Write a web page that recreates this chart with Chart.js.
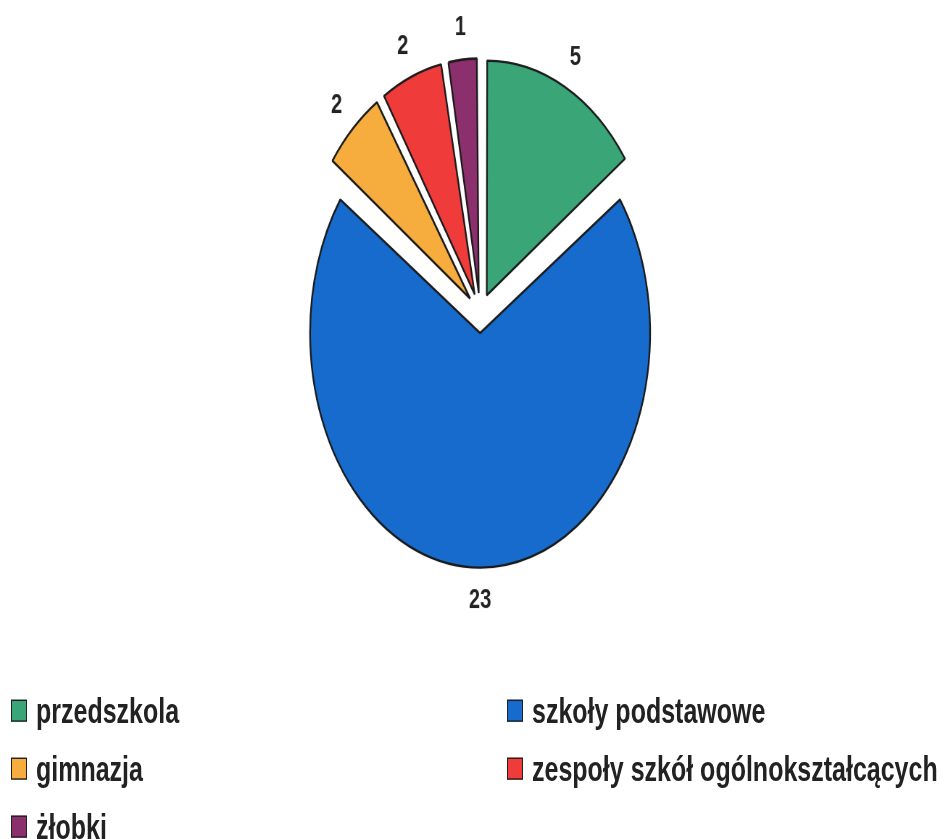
<!DOCTYPE html>
<html>
<head>
<meta charset="utf-8">
<script src="https://cdn.jsdelivr.net/npm/chart.js@4.4.0/dist/chart.umd.min.js"></script>
<style>
  html, body { margin: 0; padding: 0; background: #fff; overflow: hidden; }
  /* the reference is stretched vertically, so the whole stage is too */
  #stage { position: absolute; left: 0; top: 0; width: 948px; height: 608px;
           transform: scaleY(1.38); transform-origin: 0 0; }
  #pie { position: absolute; left: 0; top: 0; }
  .leg { position: absolute; display: flex; align-items: center; height: 30px; margin-top: -15px;
         font: bold 25px "Liberation Sans", Arial, sans-serif; color: #222; white-space: nowrap; }
  .leg i { display: block; width: 16px; height: 16px; border: 1.5px solid #222;
           box-sizing: border-box; margin-right: 9px; }
</style>
</head>
<body>
<div id="stage">
  <canvas id="pie" width="948" height="608"></canvas>
  <div id="legend"></div>
</div>
<script>
const categories = ['przedszkola', 'szkoły podstawowe', 'gimnazja', 'zespoły szkół ogólnokształcących', 'żłobki'];
const counts = [5, 23, 2, 2, 1];
const colors = ['#3aa678', '#166bcc', '#f7ad3d', '#ef3b3a', '#8b2f6d'];

const pieRadius = 170;
const sliceOffset = 58;

// keep every exploded slice at the same radius (Chart.js grows big slices by offset/4)
const evenRadius = {
  id: 'evenRadius',
  afterDatasetsUpdate(chart) {
    chart.getDatasetMeta(0).data.forEach(arc => {
      const fix = 1 - Math.sin(Math.min(Math.PI, arc.circumference));
      arc.outerRadius = pieRadius - (sliceOffset / 4) * fix;
    });
  }
};

const valueLabels = {
  id: 'valueLabels',
  afterDatasetsDraw(chart) {
    const ctx = chart.ctx;
    ctx.save();
    ctx.font = 'bold 20px "Liberation Sans", Arial, sans-serif';
    ctx.fillStyle = '#222';
    ctx.textAlign = 'center';
    ctx.textBaseline = 'middle';
    chart.getDatasetMeta(0).data.forEach((arc, i) => {
      const mid = (arc.startAngle + arc.endAngle) / 2;
      const r = pieRadius + 38;
      ctx.fillText(String(counts[i]), arc.x + Math.cos(mid) * r, arc.y + Math.sin(mid) * r);
    });
    ctx.restore();
  }
};

new Chart(document.getElementById('pie'), {
  type: 'pie',
  data: {
    labels: categories,
    datasets: [{
      data: counts,
      backgroundColor: colors,
      borderColor: '#1a1a1a',
      borderWidth: 1.7,
      offset: sliceOffset,
      radius: pieRadius
    }]
  },
  options: {
    responsive: false,
    devicePixelRatio: 1.38,
    animation: false,
    layout: { padding: { left: 12, right: 0, top: 0, bottom: 154.4 } },
    plugins: { legend: { display: false }, tooltip: { enabled: false } }
  },
  plugins: [evenRadius, valueLabels]
});

// two-column legend, row-major like the original
const colX = [11, 507];
const rowY = [515, 557, 599];
const legend = document.getElementById('legend');
categories.forEach((name, i) => {
  const el = document.createElement('div');
  el.className = 'leg';
  el.style.left = colX[i % 2] + 'px';
  el.style.top = rowY[Math.floor(i / 2)] + 'px';
  el.innerHTML = `<i style="background:${colors[i]}"></i>${name}`;
  legend.appendChild(el);
});
</script>
</body>
</html>
